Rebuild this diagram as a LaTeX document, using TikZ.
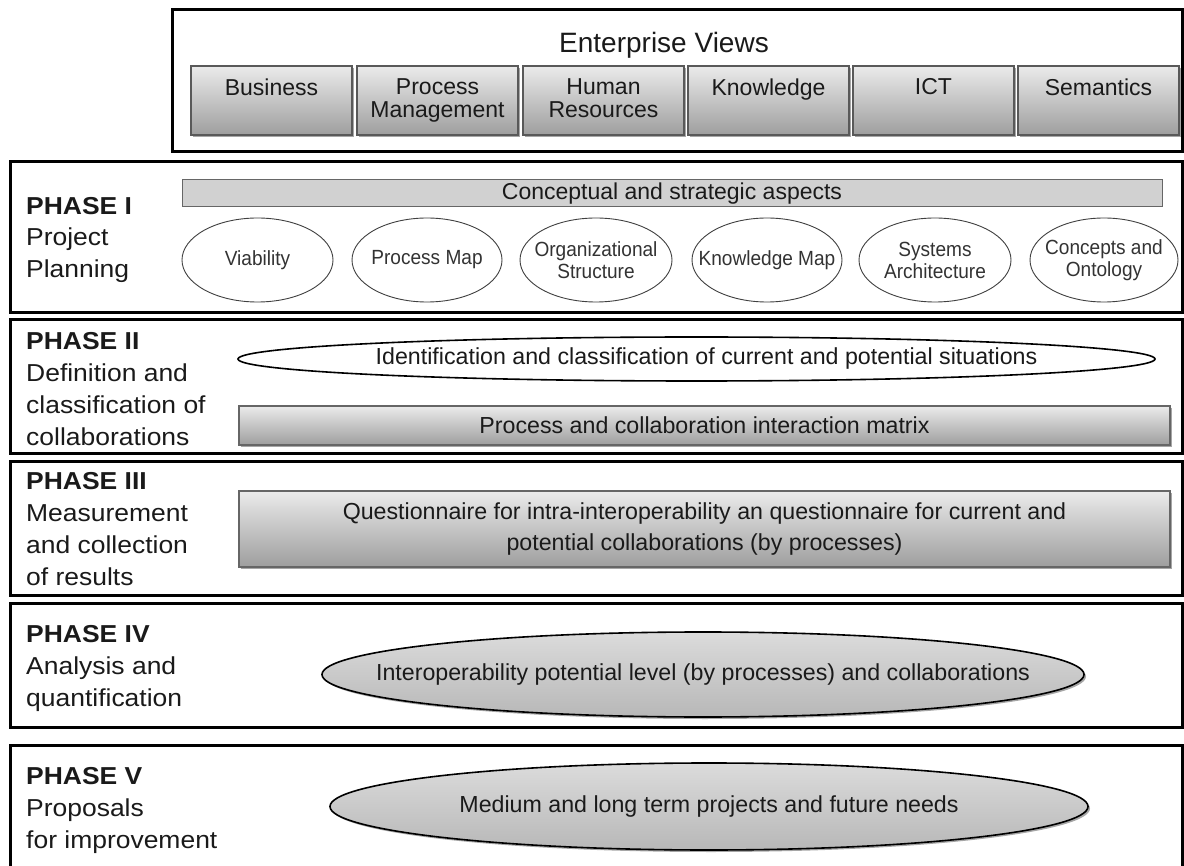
\documentclass[tikz,border=0pt]{standalone}
\usepackage{fontspec}
\setmainfont{Liberation Sans}
\newfontfamily\phasefont{Liberation Sans}[FakeStretch=1.08]
\newfontfamily\ellfont{Liberation Sans}[FakeStretch=0.93]
\usetikzlibrary{shapes.geometric,shadows}
\definecolor{ink}{HTML}{1A1A1A}
\begin{document}
\begin{tikzpicture}[x=1pt,y=-1pt,
  outer/.style={draw=black, line width=3pt, inner sep=0pt},
  viewbox/.style={draw=black!65, line width=1.2pt, inner sep=0pt,
    top color=black!8, bottom color=black!38,
    drop shadow={shadow xshift=2pt, shadow yshift=-2pt, opacity=0.35, fill=black}},
  viewtxt/.style={anchor=north, inner sep=0pt, align=center, text=ink,
    font=\fontsize{23}{23}\selectfont},
  phaselbl/.style={anchor=north west, inner sep=0pt, align=left, text=ink,
    font=\phasefont\fontsize{24.5}{32}\selectfont},
  flatbar/.style={draw=black!60, line width=1pt, fill=black!18, inner sep=0pt,
    text=ink, font=\fontsize{23}{23}\selectfont},
  gradbar/.style={draw=black!60, line width=1.2pt, inner sep=0pt,
    top color=black!8, bottom color=black!38, align=center, text=ink,
    font=\fontsize{23.2}{31}\selectfont,
    drop shadow={shadow xshift=2pt, shadow yshift=-2pt, opacity=0.35, fill=black}},
  smallell/.style={ellipse, draw=black!75, line width=0.9pt,
    inner xsep=-20pt, inner ysep=-8pt,
    minimum height=84pt, align=center, text=black!80,
    font=\ellfont\fontsize{20.5}{22}\selectfont},
  bigell/.style={ellipse, draw=black, line width=1.6pt,
    inner xsep=-60pt, inner ysep=-4pt,
    text=ink, font=\fontsize{23.2}{26}\selectfont},
  grayell/.style={bigell, top color=black!14, bottom color=black!28,
    drop shadow={shadow xshift=2pt, shadow yshift=-2pt, opacity=0.35, fill=black}}
]
\path[fill=white, use as bounding box] (0,0) rectangle (1184,866);

% Enterprise views
\node[outer, minimum width=1010pt, minimum height=142pt] (ev) at (677,81) {};
\node[text=ink, font=\fontsize{28}{32}\selectfont] (evt) at (664,45) {Enterprise Views};
\node[viewbox, minimum width=161pt, minimum height=69pt] (v1) at (271.5,100.5) {};
\node[viewbox, minimum width=161pt, minimum height=69pt] (v2) at (437.5,100.5) {};
\node[viewbox, minimum width=161pt, minimum height=69pt] (v3) at (603.5,100.5) {};
\node[viewbox, minimum width=161pt, minimum height=69pt] (v4) at (768.5,100.5) {};
\node[viewbox, minimum width=161pt, minimum height=69pt] (v5) at (933.5,100.5) {};
\node[viewbox, minimum width=161pt, minimum height=69pt] (v6) at (1098.5,100.5) {};
\node[viewtxt] (v1t) at (271.5,78.5) {Business};
\node[viewtxt] (v2t) at (437.5,78.5) {Process\\Management};
\node[viewtxt] (v3t) at (603.5,78.5) {Human\\Resources};
\node[viewtxt] (v4t) at (768.5,78.5) {Knowledge};
\node[viewtxt] (v5t) at (933.5,78.5) {ICT};
\node[viewtxt] (v6t) at (1098.5,78.5) {Semantics};

% Phase I
\node[outer, minimum width=1172pt, minimum height=151pt] (ph1) at (596,237.5) {};
\node[phaselbl, font=\phasefont\fontsize{24.5}{31.5}\selectfont] (ph1t) at (26,197) {\textbf{PHASE I}\\Project\\Planning};
\node[flatbar, minimum width=980pt, minimum height=27pt] (cs) at (672,193.5) {Conceptual and strategic aspects};
\node[smallell, minimum width=151pt] (e1) at (257.5,260) {Viability};
\node[smallell, minimum width=150pt] (e2) at (427,260) {Process Map};
\node[smallell, minimum width=152pt] (e3) at (596,260) {Organizational\\Structure};
\node[smallell, minimum width=150pt] (e4) at (767,260) {Knowledge Map};
\node[smallell, minimum width=152pt] (e5) at (935,260) {Systems\\Architecture};
\node[smallell, minimum width=148pt] (e6) at (1104,260) {Concepts and\\Ontology};

% Phase II
\node[outer, minimum width=1172pt, minimum height=134pt] (ph2) at (596,387) {};
\node[phaselbl] (ph2t) at (26,332) {\textbf{PHASE II}\\Definition and\\classification of\\collaborations};
\node[bigell, fill=white, minimum width=917pt, minimum height=44pt] (id) at (696.5,359) {\hspace*{20pt}Identification and classification of current and potential situations};
\node[gradbar, minimum width=931pt, minimum height=39pt] (pm) at (704.5,425.5) {Process and collaboration interaction matrix};

% Phase III
\node[outer, minimum width=1172pt, minimum height=133pt] (ph3) at (596,528.5) {};
\node[phaselbl] (ph3t) at (26,472) {\textbf{PHASE III}\\Measurement\\and collection\\of results};
\node[gradbar, minimum width=931pt, minimum height=76pt] (qn) at (704.5,529) {Questionnaire for intra-interoperability an questionnaire for current and\\potential collaborations (by processes)};

% Phase IV
\node[outer, minimum width=1172pt, minimum height=124pt] (ph4) at (596,665) {};
\node[phaselbl] (ph4t) at (26,625) {\textbf{PHASE IV}\\Analysis and\\quantification};
\node[grayell, minimum width=762pt, minimum height=85pt] (ip) at (703,674.5) {Interoperability potential level (by processes) and collaborations};

% Phase V
\node[outer, minimum width=1172pt, minimum height=155pt] (ph5) at (596,822.5) {};
\node[phaselbl] (ph5t) at (26,767) {\textbf{PHASE V}\\Proposals\\for improvement};
\node[grayell, minimum width=758pt, minimum height=87pt] (ml) at (709,806.5) {Medium and long term projects and future needs};
\end{tikzpicture}
\end{document}
